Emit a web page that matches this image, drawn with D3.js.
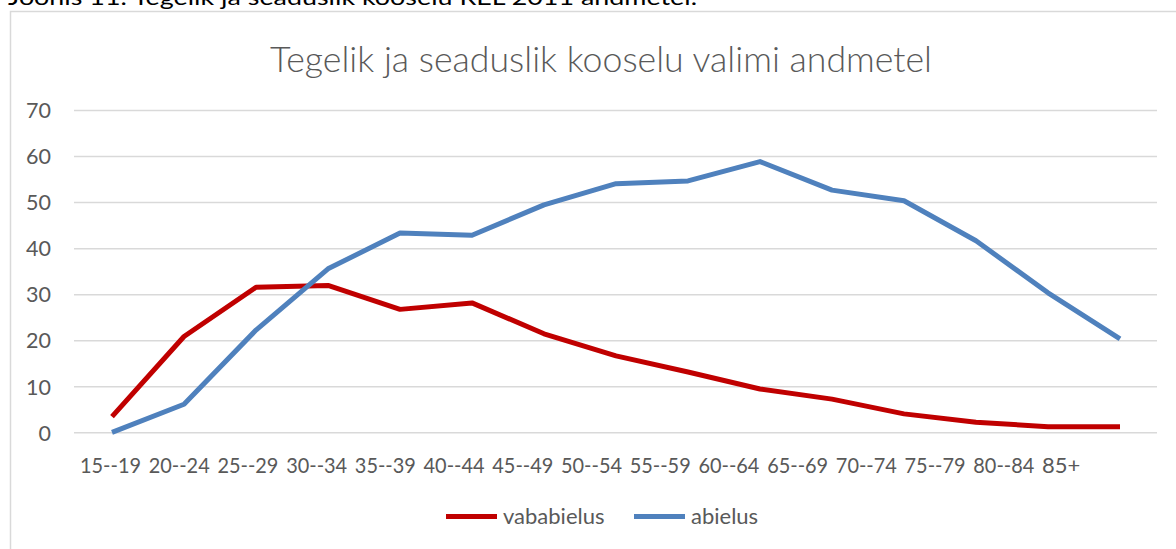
<!DOCTYPE html>
<html lang="et">
<head>
    <meta charset="UTF-8">
    <title>Tegelik ja seaduslik kooselu</title>
    <script src="https://d3js.org/d3.v7.min.js"></script>
    <style>
        body { margin: 0; background: #fff; }
        text { font-family: Lato, "Open Sans", sans-serif; }
    </style>
</head>
<body>
    <svg id="chart" width="1176" height="549"></svg>

    <script>
        // data
        const ages = ["15--19", "20--24", "25--29", "30--34", "35--39", "40--44", "45--49", "50--54",
                      "55--59", "60--64", "65--69", "70--74", "75--79", "80--84", "85+"];
        const vababielus = [3.4, 20.8, 31.5, 31.9, 26.7, 28.1, 21.4, 16.6, 13.1, 9.4, 7.2, 4.0, 2.2, 1.2, 1.2];
        const abielus = [0, 6.1, 22.2, 35.5, 43.3, 42.8, 49.4, 54.0, 54.6, 58.8, 52.6, 50.3, 41.6, 30.3, 20.3];
        const yTicks = [0, 10, 20, 30, 40, 50, 60, 70];
        const seriesNames = ["vababielus", "abielus"];
        const seriesColors = ["#C00000", "#4F81BD"];

        const svg = d3.select('#chart');
        const gray = "#595959";

        // caption above the chart box (cut off at the top)
        svg.append("text")
            .attr("x", 8)
            .attr("y", 5)
            .attr("font-size", 22)
            .attr("fill", "#000")
            .attr("textLength", 689)
            .attr("lengthAdjust", "spacingAndGlyphs")
            .text("Joonis 11. Tegelik ja seaduslik kooselu REL 2011 andmetel.");

        // chart box
        svg.append("rect")
            .attr("x", 10.5)
            .attr("y", 11.5)
            .attr("width", 1300)
            .attr("height", 700)
            .attr("fill", "#fff")
            .attr("stroke", "#D9D9D9")
            .attr("stroke-width", 1.5);

        // title
        svg.append("text")
            .attr("x", 601)
            .attr("y", 72)
            .attr("text-anchor", "middle")
            .attr("font-size", 35)
            .attr("font-weight", 300)
            .attr("fill", gray)
            .attr("textLength", 662)
            .attr("lengthAdjust", "spacingAndGlyphs")
            .text("Tegelik ja seaduslik kooselu valimi andmetel");

        // scales
        const x = d3.scalePoint().domain(ages).range([112, 1120]);
        const y = d3.scaleLinear().domain([0, 70]).range([432.3, 110]);
        // category labels sit packed to the left, as in the original
        const labelX = d3.scalePoint().domain(ages).range([80, 1042]);

        // y axis with gridlines
        const yAxis = svg.append("g")
            .attr("transform", "translate(74,0)")
            .call(d3.axisLeft(y).tickValues(yTicks).tickSize(-1083).tickPadding(23));
        yAxis.select(".domain").remove();
        yAxis.selectAll(".tick line")
            .attr("stroke", "#D9D9D9")
            .attr("stroke-width", 1.5);
        yAxis.selectAll(".tick text")
            .attr("font-family", "Lato, 'Open Sans', sans-serif")
            .attr("font-size", 21.5)
            .attr("fill", gray)
            .attr("dy", "0.36em");

        // x labels
        svg.append("g").selectAll("text")
            .data(ages)
            .join("text")
            .attr("x", d => labelX(d))
            .attr("y", 472.5)
            .attr("font-size", 22)
            .attr("fill", gray)
            .each(function (d) {
                if (d.length > 3) {
                    d3.select(this).attr("textLength", 61).attr("lengthAdjust", "spacingAndGlyphs");
                }
            })
            .text(d => d);

        // lines
        const series = [vababielus, abielus];
        const line = d3.line()
            .x((d, i) => x(ages[i]))
            .y(d => y(d));

        series.forEach((vals, i) => {
            svg.append("path")
                .datum(vals)
                .attr("d", line)
                .attr("fill", "none")
                .attr("stroke", seriesColors[i])
                .attr("stroke-width", 5)
                .attr("stroke-linejoin", "round");
        });

        // legend
        const legendX = [446, 634];
        seriesNames.forEach((name, i) => {
            svg.append("line")
                .attr("x1", legendX[i])
                .attr("x2", legendX[i] + 51)
                .attr("y1", 516.5)
                .attr("y2", 516.5)
                .attr("stroke", seriesColors[i])
                .attr("stroke-width", 5);
            svg.append("text")
                .attr("x", legendX[i] + 57)
                .attr("y", 516.5)
                .attr("dy", "0.36em")
                .attr("font-size", 22)
                .attr("fill", gray)
                .text(name);
        });
    </script>
</body>
</html>
